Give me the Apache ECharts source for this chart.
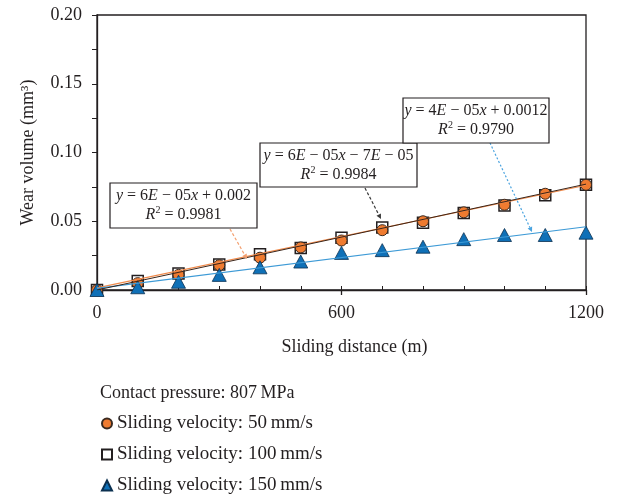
<!DOCTYPE html>
<html>
<head>
<meta charset="utf-8">
<script src="https://cdn.jsdelivr.net/npm/echarts@6/dist/echarts.min.js"></script>
<style>
  html, body { margin: 0; padding: 0; background: #fff; }
  #chart { width: 618px; height: 498px; }
</style>
</head>
<body>
<div id="chart"></div>
<script>
// sliding distance (m)
const distance = [0, 100, 200, 300, 400, 500, 600, 700, 800, 900, 1000, 1100, 1200];

// wear volume (mm3) per sliding velocity
const wear50 = [0, 0.005, 0.011, 0.018, 0.0235, 0.031, 0.036, 0.0435, 0.050, 0.0565, 0.062, 0.070, 0.0765];
const wear100 = [0, 0.0065, 0.012, 0.0185, 0.026, 0.0305, 0.038, 0.0455, 0.049, 0.056, 0.0615, 0.069, 0.0766];
const wear150 = [0, 0.002, 0.006, 0.011, 0.0165, 0.0207, 0.027, 0.029, 0.0315, 0.037, 0.040, 0.040, 0.0417];

// linear trend lines (end points)
const trend50 = [[0, 0.0015], [1200, 0.0762]];
const trend100 = [[0, 0], [1200, 0.0770]];
const trend150 = [[0, 0.0012], [1200, 0.0460]];

const seriesNames = ['Sliding velocity: 50\u2009mm/s', 'Sliding velocity: 100\u2009mm/s', 'Sliding velocity: 150\u2009mm/s'];

const FONT = '"Liberation Serif", "DejaVu Serif", serif';
const TXT = '#231f20';

const chart = echarts.init(document.getElementById('chart'));

const pairs = (ys) => distance.map((x, i) => [x, ys[i]]);

// small arrowhead for the dashed pointers
function arrow(x1, y1, x2, y2, color, dash) {
    const a = Math.atan2(y2 - y1, x2 - x1);
    const L = 5, W = 2.5;
    const bx = x2 - L * Math.cos(a), by = y2 - L * Math.sin(a);
    return [
        { type: 'line', shape: { x1, y1, x2: bx, y2: by }, style: { stroke: color, lineWidth: 1.2, lineDash: dash }, z: 100 },
        { type: 'polygon', shape: { points: [[x2, y2], [bx + W * Math.sin(a), by - W * Math.cos(a)], [bx - W * Math.sin(a), by + W * Math.cos(a)]] }, style: { fill: color }, z: 100 }
    ];
}

function box(x, y, w, h, text) {
    return [
        { type: 'rect', shape: { x, y, width: w, height: h }, style: { fill: '#fff', stroke: '#231f20', lineWidth: 1.2 }, z: 100 },
        {
            type: 'text', x: x + w / 2, y: y + h / 2, z: 101,
            style: {
                text, align: 'center', verticalAlign: 'middle',
                font: '16px ' + FONT, fill: TXT, lineHeight: 19,
                rich: {
                    i: { fontStyle: 'italic', fontSize: 16, fontFamily: FONT, fill: TXT },
                    s: { fontSize: 10, fontFamily: FONT, fill: TXT, verticalAlign: 'top', padding: [0, 0, 8, 0] }
                }
            }
        }
    ];
}

const option = {
    animation: false,
    textStyle: { fontFamily: FONT },
    grid: {
        left: 97, right: 32, top: 15, bottom: 208,
        show: true, borderColor: '#231f20', borderWidth: 1.3
    },
    legend: {
        orient: 'vertical', left: 101, top: 414, padding: 0,
        itemGap: 12, itemWidth: 10, itemHeight: 10, itemTextGap: 12,
        textStyle: { fontFamily: FONT, fontSize: 19, color: TXT, lineHeight: 19 },
        data: [
            { name: seriesNames[0], icon: 'circle' },
            { name: seriesNames[1], icon: 'rect' },
            { name: seriesNames[2], icon: 'triangle' }
        ]
    },
    xAxis: [
        {
            type: 'value', min: 0, max: 1200, interval: 100,
            name: 'Sliding distance (m)', nameLocation: 'middle', nameGap: 48,
            nameTextStyle: { fontFamily: FONT, fontSize: 18, color: TXT, padding: [0, 0, 0, 26] },
            axisLine: { lineStyle: { color: '#231f20', width: 1.3 } },
            axisTick: { inside: true, length: 4, lineStyle: { color: '#231f20' } },
            axisLabel: {
                margin: 14, fontFamily: FONT, fontSize: 18, color: TXT,
                formatter: (v) => (v % 600 === 0 ? String(v) : '')
            },
            splitLine: { show: false }
        },
        {
            type: 'value', min: 0, max: 1200, interval: 600, position: 'bottom',
            axisLine: { show: false },
            axisTick: { inside: false, length: 5, lineStyle: { color: '#231f20', width: 1.3 } },
            axisLabel: { show: false },
            splitLine: { show: false }
        }
    ],
    yAxis: {
        type: 'value', min: 0, max: 0.2, interval: 0.025,
        name: 'Wear volume (mm\u00b3)', nameLocation: 'middle', nameGap: 60,
        nameTextStyle: { fontFamily: FONT, fontSize: 18, color: TXT },
        axisLine: { show: true, lineStyle: { color: '#231f20', width: 1.3 } },
        axisTick: { show: true, inside: false, length: 5, lineStyle: { color: '#231f20' } },
        axisLabel: {
            margin: 15, fontFamily: FONT, fontSize: 18, color: TXT,
            formatter: (v) => (Math.round(v * 1000) % 50 === 0 ? v.toFixed(2) : '')
        },
        splitLine: { show: false }
    },
    series: [
        {
            name: seriesNames[1], type: 'scatter', data: pairs(wear100), z: 2,
            symbol: 'rect', symbolSize: 11,
            itemStyle: { color: '#ffffff', borderColor: '#231f20', borderWidth: 1.5, opacity: 1 }
        },
        {
            name: seriesNames[0], type: 'scatter', data: pairs(wear50), z: 3,
            symbol: 'circle', symbolSize: 11,
            itemStyle: { color: '#ef7b30', borderColor: '#3a2a20', borderWidth: 1, opacity: 1 }
        },
        {
            name: seriesNames[2], type: 'scatter', data: pairs(wear150), z: 4,
            symbol: 'triangle', symbolSize: [14, 13],
            itemStyle: { color: '#0f70b7', borderColor: '#0b3050', borderWidth: 0.8, opacity: 1 }
        },
        {
            name: 'trend50', type: 'line', data: trend50, z: 5, symbol: 'none', silent: true,
            lineStyle: { color: '#f08a4b', width: 1.2 }
        },
        {
            name: 'trend100', type: 'line', data: trend100, z: 6, symbol: 'none', silent: true,
            lineStyle: { color: '#3a2418', width: 1 }
        },
        {
            name: 'trend150', type: 'line', data: trend150, z: 5, symbol: 'none', silent: true,
            lineStyle: { color: '#3d9ad6', width: 1.2 }
        }
    ],
    graphic: [
        {
            type: 'text', left: 100, top: 384,
            style: { text: 'Contact pressure: 807\u2009MPa', font: '18px ' + FONT, fill: TXT }
        },
        ...arrow(230, 229, 247, 259, '#f4a070', [3, 2]),
        ...box(110, 183, 147, 45, '{i|y} = 6{i|E} \u2212 05{i|x} + 0.002\n{i|R}{s|2} = 0.9981'),
        ...arrow(365, 188, 381, 219, '#3a3a3a', [3, 2]),
        ...box(260, 143, 157, 44, '{i|y} = 6{i|E} \u2212 05{i|x} \u2212 7{i|E} \u2212 05\n{i|R}{s|2} = 0.9984'),
        ...arrow(490, 143, 532, 232, '#4aa3df', [2, 2]),
        ...box(403, 98, 146, 45, '{i|y} = 4{i|E} \u2212 05{i|x} + 0.0012\n{i|R}{s|2} = 0.9790')
    ]
};

chart.setOption(option);
</script>
</body>
</html>
